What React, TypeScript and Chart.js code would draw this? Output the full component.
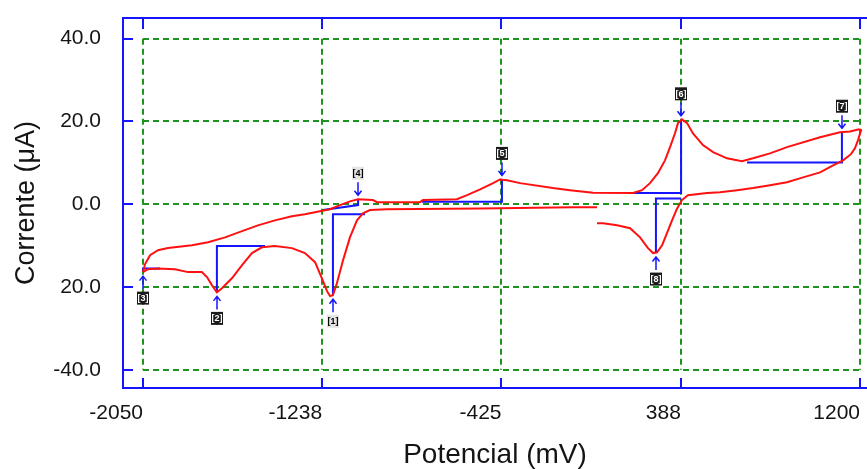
import React, { useEffect, useRef } from 'react';
import { Chart, registerables } from 'chart.js';

Chart.register(...registerables);

// ---- axes ----
const xTickValues = [-2050, -1238, -425, 388, 1200];
const xTickLabels = ['-2050', '-1238', '-425', '388', '1200'];
const yTickValues = [-40, -20, 0, 20, 40];
const yTickLabels = ['-40.0', '20.0', '0.0', '20.0', '40.0'];
const X_MIN = -2140.6;
const X_MAX = 1231.7;
const Y_MIN = -44.4;
const Y_MAX = 45.0;
const xTitle = 'Potencial (mV)';
const yTitle = 'Corrente (μA)';

// ---- voltammogram: forward (anodic) sweep ----
const forwardV = [-2050, -2041, -2018, -1982, -1937, -1828, -1755, -1678, -1601, -1529, -1452, -1375, -1316, -1248, -1202, -1157, -1112, -1075, -1008, -989, -794, -781, -627, -581, -522, -463, -432, -400, -341, -192, -115, -10, 171, 212, 248, 284, 316, 339, 361, 375, 393, 416, 443, 488, 534, 597, 665, 715, 792, 869, 1019, 1109, 1155, 1196];
const forwardI = [-16.4, -14.5, -12.3, -11.1, -10.6, -9.9, -9.2, -8.0, -6.5, -5.1, -3.9, -2.9, -2.4, -1.7, -1.2, -0.2, 0.7, 1.2, 1.0, 0.5, 0.5, 1.0, 1.2, 2.2, 3.6, 5.1, 6.0, 5.8, 5.1, 3.9, 3.4, 2.8, 2.7, 3.4, 5.1, 7.5, 10.6, 13.8, 17.1, 19.6, 20.5, 19.6, 17.1, 14.3, 12.6, 11.1, 10.4, 11.1, 12.3, 13.8, 16.2, 17.4, 17.6, 18.1];

// ---- reverse (cathodic) sweep, part A (right side) ----
const reverseAV = [1196, 1205, 1191, 1177, 1159, 1123, 1078, 1019, 942, 869, 792, 715, 643, 565, 507, 420, 393, 371, 348, 325, 303, 280, 262, 239, 203, 158, 99, 35, 8];
const reverseAI = [18.1, 17.9, 15.5, 13.5, 12.1, 10.6, 9.4, 7.7, 6.5, 5.3, 4.6, 3.9, 3.4, 2.9, 2.7, 2.2, 1.0, -1.0, -3.9, -7.0, -9.9, -11.6, -11.8, -10.6, -8.0, -5.8, -5.1, -4.6, -4.6];

// ---- reverse (cathodic) sweep, part B (left side) ----
const reverseBV = [8, -101, -522, -944, -1021, -1053, -1080, -1112, -1143, -1171, -1189, -1202, -1216, -1239, -1270, -1316, -1375, -1452, -1511, -1556, -1601, -1647, -1692, -1715, -1737, -1760, -1783, -1846, -1905, -1982, -2027, -2050];
const reverseBI = [-0.7, -0.7, -1.0, -1.2, -1.4, -2.2, -3.9, -8.0, -13.5, -19.1, -22.0, -22.2, -21.0, -17.9, -14.0, -11.8, -10.6, -10.1, -10.4, -11.8, -14.7, -17.9, -20.3, -21.3, -19.6, -17.6, -16.4, -16.4, -15.7, -15.5, -15.7, -16.4];

// ---- peak markers ----
const peakNames = ['[1]', '[2]', '[3]', '[4]', '[5]', '[6]', '[7]', '[8]'];
const peakV = [-1189, -1715, -2050, -1075, -423, 389, 1118, 275];
const peakI = [-22.0, -21.3, -16.4, 1.2, 6.0, 20.4, 17.4, -11.8];
const baseFromV = [-1044, -1497, -1973, -1234, -785, 171, 688, 389];
const baseFromI = [-2.4, -10.1, -15.5, -1.4, 0.6, 2.7, 10.1, 1.4];
const baseToI = [-2.4, -10.1, -15.5, -0.2, 0.6, 2.7, 10.1, 1.4];

// ---- styles ----
const FONT = '"Liberation Sans", Arial, Helvetica, sans-serif';
const RED = '#ff1010';
const BLUE = '#1414ff';
const GREEN = '#1e931e';
const TEXT = '#141414';
const labelDark = [false, true, true, false, true, true, true, true];

const toPoints = (xs: number[], ys: number[]) => xs.map((v, i) => ({ x: v, y: ys[i] }));

const framePlugin = {
  id: 'cvFrame',
  beforeDatasetsDraw(chart: any) {
    const { ctx, scales } = chart;
    const x = scales.x;
    const y = scales.y;
    const x0 = x.getPixelForValue(Math.min(...xTickValues));
    const x1 = x.getPixelForValue(Math.max(...xTickValues));
    const yT = y.getPixelForValue(Math.max(...yTickValues));
    const yB = y.getPixelForValue(Math.min(...yTickValues));
    ctx.save();
    ctx.strokeStyle = GREEN;
    ctx.lineWidth = 2;
    ctx.setLineDash([6, 4]);
    yTickValues.forEach((v) => {
      const py = Math.round(y.getPixelForValue(v));
      ctx.beginPath();
      ctx.moveTo(x0, py);
      ctx.lineTo(x1, py);
      ctx.stroke();
    });
    xTickValues.forEach((v) => {
      const px = Math.round(x.getPixelForValue(v));
      ctx.beginPath();
      ctx.moveTo(px, yT);
      ctx.lineTo(px, yB);
      ctx.stroke();
    });
    ctx.restore();
  },
  afterDraw(chart: any) {
    const { ctx, chartArea, scales } = chart;
    const x = scales.x;
    const y = scales.y;
    const { left, top, bottom, right } = chartArea;
    ctx.save();
    ctx.strokeStyle = BLUE;
    ctx.lineWidth = 2;
    ctx.setLineDash([]);
    ctx.beginPath();
    ctx.moveTo(right + 5, top);
    ctx.lineTo(left, top);
    ctx.lineTo(left, bottom);
    ctx.lineTo(right + 5, bottom);
    ctx.stroke();
    yTickValues.forEach((v) => {
      const py = Math.round(y.getPixelForValue(v));
      ctx.beginPath();
      ctx.moveTo(left, py);
      ctx.lineTo(left + 10, py);
      ctx.stroke();
    });
    xTickValues.forEach((v) => {
      const px = Math.round(x.getPixelForValue(v));
      ctx.beginPath();
      ctx.moveTo(px, bottom);
      ctx.lineTo(px, bottom - 10);
      ctx.moveTo(px, top);
      ctx.lineTo(px, top + 11);
      ctx.stroke();
    });

    // arrows + labels for peaks
    peakNames.forEach((name, i) => {
      const px = Math.round(x.getPixelForValue(peakV[i]));
      const py = y.getPixelForValue(peakI[i]);
      const above = peakI[i] > baseToI[i];
      const dir = above ? -1 : 1;
      const tip = py + dir * 4;
      const tail = py + dir * 17;
      ctx.strokeStyle = BLUE;
      ctx.lineWidth = 1.5;
      ctx.beginPath();
      ctx.moveTo(px, tail);
      ctx.lineTo(px, tip);
      ctx.moveTo(px - 3.5, tip + dir * 4.5);
      ctx.lineTo(px, tip);
      ctx.lineTo(px + 3.5, tip + dir * 4.5);
      ctx.stroke();
      const cy = py + dir * 26;
      const w = 12;
      const h = 13;
      ctx.fillStyle = labelDark[i] ? '#1a1a1a' : '#e4e4e4';
      ctx.fillRect(px - w / 2, cy - h / 2, w, h);
      ctx.fillStyle = labelDark[i] ? '#ffffff' : '#000000';
      ctx.font = `bold 9px ${FONT}`;
      ctx.textAlign = 'center';
      ctx.textBaseline = 'middle';
      ctx.fillText(name, px, cy + 0.5);
    });
    ctx.restore();
  },
};

export default function App() {
  const canvasRef = useRef<HTMLCanvasElement | null>(null);

  useEffect(() => {
    const canvas = canvasRef.current;
    if (!canvas) return;

    const markerDatasets = peakNames.map((name, i) => ({
      label: `baseline ${name}`,
      data: [
        { x: baseFromV[i], y: baseFromI[i] },
        { x: peakV[i], y: baseToI[i] },
        { x: peakV[i], y: peakI[i] },
      ],
      showLine: true,
      borderColor: BLUE,
      borderWidth: 2,
      pointRadius: 0,
      tension: 0,
      order: 2,
    }));

    const curveStyle = {
      showLine: true,
      borderColor: RED,
      borderWidth: 2,
      pointRadius: 0,
      tension: 0,
      order: 1,
    };

    const chart = new Chart(canvas, {
      type: 'scatter',
      data: {
        datasets: [
          { label: 'forward', data: toPoints(forwardV, forwardI), ...curveStyle },
          { label: 'reverse A', data: toPoints(reverseAV, reverseAI), ...curveStyle },
          { label: 'reverse B', data: toPoints(reverseBV, reverseBI), ...curveStyle },
          ...markerDatasets,
        ],
      },
      options: {
        animation: false,
        responsive: false,
        maintainAspectRatio: false,
        layout: { padding: { left: 0, right: 0, top: 18, bottom: 0 } },
        plugins: {
          legend: { display: false },
          tooltip: { enabled: false },
        },
        scales: {
          x: {
            type: 'linear',
            position: 'bottom',
            min: X_MIN,
            max: X_MAX,
            afterBuildTicks: (s: any) => {
              s.ticks = xTickValues.map((v) => ({ value: v }));
            },
            afterFit: (s: any) => {
              s.height = 81;
              s.paddingLeft = 0;
              s.paddingRight = 0;
              s.paddingTop = 0;
              s.paddingBottom = 0;
            },
            ticks: {
              autoSkip: false,
              maxRotation: 0,
              align: 'end',
              padding: 15,
              color: TEXT,
              font: { family: FONT, size: 21, lineHeight: 1 },
              callback: (v: any) => {
                const idx = xTickValues.indexOf(Number(v));
                return idx >= 0 ? xTickLabels[idx] : '';
              },
            },
            grid: { display: false, drawTicks: false },
            border: { display: false },
            title: {
              display: true,
              text: xTitle,
              color: TEXT,
              font: { family: FONT, size: 28, lineHeight: 1 },
              padding: { top: 0, bottom: 0 },
            },
          },
          y: {
            type: 'linear',
            position: 'left',
            min: Y_MIN,
            max: Y_MAX,
            afterBuildTicks: (s: any) => {
              s.ticks = yTickValues.map((v) => ({ value: v }));
            },
            afterFit: (s: any) => {
              s.width = 123;
              s.paddingTop = 0;
              s.paddingBottom = 0;
              s.paddingLeft = 0;
              s.paddingRight = 0;
            },
            ticks: {
              autoSkip: false,
              padding: 22,
              color: TEXT,
              font: { family: FONT, size: 21 },
              callback: (v: any) => {
                const idx = yTickValues.indexOf(Number(v));
                return idx >= 0 ? yTickLabels[idx] : '';
              },
            },
            grid: { display: false, drawTicks: false },
            border: { display: false },
            title: {
              display: true,
              text: yTitle,
              color: TEXT,
              font: { family: FONT, size: 27, lineHeight: 1 },
              padding: { top: 13, bottom: 0 },
            },
          },
        },
      },
      plugins: [framePlugin],
    } as any);

    return () => chart.destroy();
  }, []);

  return (
    <div style={{ position: 'fixed', left: 0, top: 0, width: 867, height: 469, background: '#ffffff' }}>
      <canvas ref={canvasRef} width={867} height={469} style={{ display: 'block' }} />
    </div>
  );
}
